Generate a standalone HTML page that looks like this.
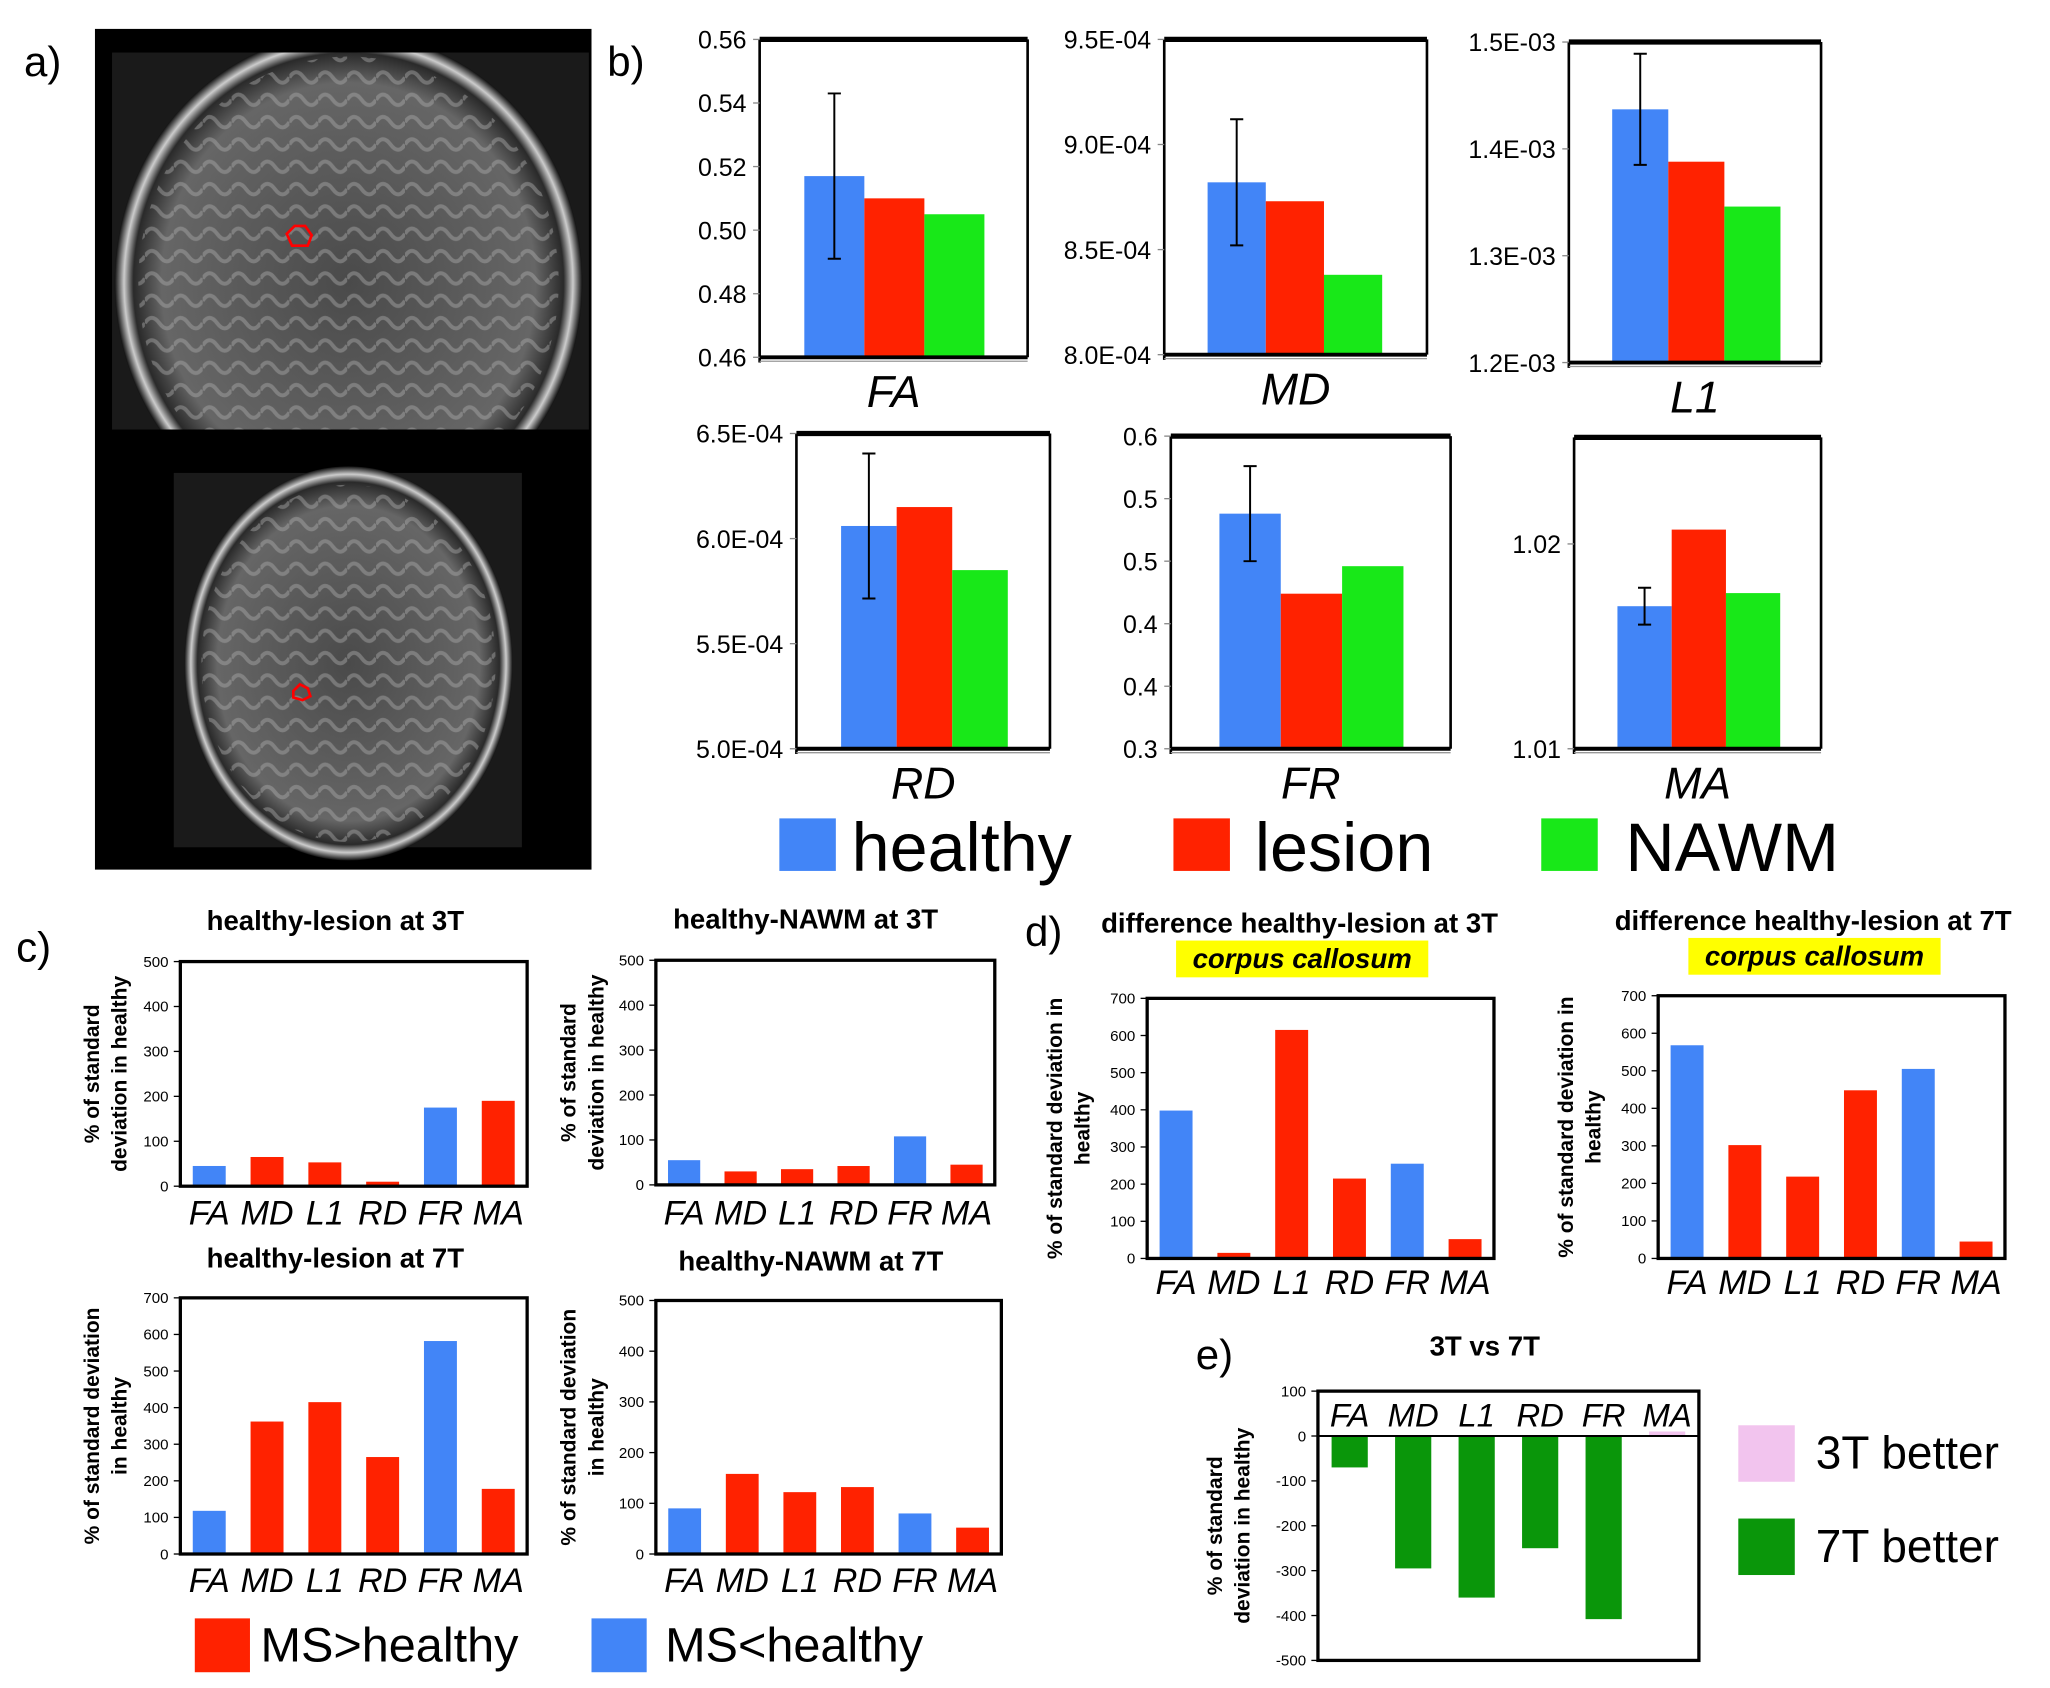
<!DOCTYPE html>
<html><head><meta charset="utf-8"><style>
html,body{margin:0;padding:0;background:#fff}
svg{display:block}
text{font-family:"Liberation Sans",Arial,sans-serif}
</style></head><body>
<svg id="fig" width="2050" height="1688" viewBox="0 0 1560 1285" xmlns="http://www.w3.org/2000/svg">
<defs>
<radialGradient id="br" cx="50%" cy="50%" r="50%"><stop offset="0" stop-color="#4a4a4a"/><stop offset="0.8" stop-color="#666"/><stop offset="0.92" stop-color="#2a2a2a"/><stop offset="0.96" stop-color="#ccc"/><stop offset="1" stop-color="#111"/></radialGradient>
<pattern id="gy" width="22" height="17" patternUnits="userSpaceOnUse"><path d="M0 8 Q5 0 11 8 T22 8" stroke="#aaa" stroke-width="3" fill="none"/></pattern>
<clipPath id="c1"><rect x="85" y="40" width="363" height="287"/></clipPath>
</defs>
<g>
<rect x="72" y="22" width="378" height="640" fill="#000"/>
<rect x="85" y="40" width="363" height="287" fill="#1a1a1a"/>
<g clip-path="url(#c1)">
<ellipse cx="265" cy="215" rx="178" ry="190" fill="url(#br)"/>
<ellipse cx="265" cy="215" rx="160" ry="172" fill="url(#gy)" opacity="0.45"/>
</g>
<rect x="132" y="360" width="265" height="285" fill="#1a1a1a"/>
<ellipse cx="265" cy="505" rx="125" ry="150" fill="url(#br)"/>
<ellipse cx="265" cy="505" rx="112" ry="136" fill="url(#gy)" opacity="0.45"/>
<path d="M218 178 l6 -6 h8 l5 7 -3 8 h-12 z" fill="none" stroke="#f00" stroke-width="2"/>
<path d="M223 526 l5 -5 6 3 2 6 -6 3 -7 -2 z" fill="none" stroke="#f00" stroke-width="2"/>
</g>
<text x="18" y="58" font-size="32">a)</text>
<text x="462" y="58" font-size="32">b)</text>
<text x="12" y="732" font-size="32">c)</text>
<text x="780" y="720" font-size="32">d)</text>
<text x="910" y="1042" font-size="32">e)</text>
</svg>
<script>
// Panel b data (healthy, lesion, NAWM)
const bGroups=["healthy","lesion","NAWM"];
const faVals=[0.517,0.510,0.505];const faErr=[0.026];
const mdVals=[8.82e-4,8.73e-4,8.38e-4];const mdErr=[0.30e-4];
const l1Vals=[1.437e-3,1.388e-3,1.346e-3];const l1Err=[0.052e-3];
const rdVals=[6.06e-4,6.15e-4,5.85e-4];const rdErr=[0.345e-4];
const frVals=[0.488,0.424,0.446];const frErr=[0.038];
const maVals=[1.01696,1.0207,1.0176];const maErr=[0.0009];
const faTicks=[0.46,0.48,0.50,0.52,0.54,0.56];const faLabels=["0.46","0.48","0.50","0.52","0.54","0.56"];
const mdTicks=[8.0e-4,8.5e-4,9.0e-4,9.5e-4];const mdLabels=["8.0E-04","8.5E-04","9.0E-04","9.5E-04"];
const l1Ticks=[1.2e-3,1.3e-3,1.4e-3,1.5e-3];const l1Labels=["1.2E-03","1.3E-03","1.4E-03","1.5E-03"];
const rdTicks=[5.0e-4,5.5e-4,6.0e-4,6.5e-4];const rdLabels=["5.0E-04","5.5E-04","6.0E-04","6.5E-04"];
const frTicks=[0.30,0.35,0.40,0.45,0.50,0.55];const frLabels=["0.3","0.4","0.4","0.5","0.5","0.6"];
const maTicks=[1.01,1.02];const maLabels=["1.01","1.02"];const maDomain=[1.01,1.0252];
// Panel c/d/e data
const cats=["FA","MD","L1","RD","FR","MA"];
const hl3Vals=[45,65,53,10,175,190];const hl3Sign=["b","r","r","r","b","r"];
const hn3Vals=[55,30,35,42,108,45];const hn3Sign=["b","r","r","r","b","r"];
const hl7Vals=[118,362,415,265,582,178];const hl7Sign=["b","r","r","r","b","r"];
const hn7Vals=[90,158,122,132,80,52];const hn7Sign=["b","r","r","r","b","r"];
const cc3Vals=[398,15,615,215,255,52];const cc3Sign=["b","r","r","r","b","r"];
const cc7Vals=[568,302,218,448,505,45];const cc7Sign=["b","r","r","r","b","r"];
const eVals=[-70,-295,-360,-250,-408,10];
const t500=[0,100,200,300,400,500];const t700=[0,100,200,300,400,500,600,700];
const tE=[-500,-400,-300,-200,-100,0,100];

const NS="http://www.w3.org/2000/svg";const svg=document.getElementById("fig");
const COL={healthy:"#4285f7",lesion:"#ff2200",NAWM:"#18e818",b:"#4285f7",r:"#ff2200",g:"#0a960a",p:"#f2c4ee"};
function mk(tag,attrs,parent){const e=document.createElementNS(NS,tag);for(const k in attrs)e.setAttribute(k,attrs[k]);(parent||svg).appendChild(e);return e;}
function txt(x,y,s,size,extra,parent){const t=mk("text",Object.assign({x:x,y:y,"font-size":size},extra||{}),parent);t.textContent=s;return t;}

function panelB(name,vals,err,ticks,labels,x0,x1,yTop,yBot,bx,bw,title,domain){
  const g=mk("g",{});
  
  
  const lo=domain?domain[0]:ticks[0],hi=domain?domain[1]:ticks[ticks.length-1];
  const ys=v=>yBot-(v-lo)/(hi-lo)*(yBot-yTop);
  vals.forEach((v,i)=>{const r=mk("rect",{x:bx+i*bw,y:ys(v),width:bw,height:yBot-ys(v),fill:COL[bGroups[i]]},g);
    
    });
  const cx=bx+bw/2,e1=ys(vals[0]-err[0]),e2=ys(vals[0]+err[0]);
  const eb=mk("path",{d:`M${cx} ${e1}V${e2}M${cx-5} ${e1}h10M${cx-5} ${e2}h10`,stroke:"#000","stroke-width":1.5,fill:"none"},g);
  
  
  mk("path",{d:`M${x0} ${yTop}H${x1}`,stroke:"#000","stroke-width":4},g);
  mk("path",{d:`M${x1} ${yTop}V${yBot}M${x0} ${yTop}V${yBot+4}`,stroke:"#000","stroke-width":2},g);
  mk("path",{d:`M${x0} ${yBot}H${x1}`,stroke:"#000","stroke-width":3},g);
  mk("path",{d:`M${x0} ${yBot+3}H${x1}`,stroke:"#999","stroke-width":1},g);
  ticks.forEach((t,i)=>{const y=ys(t);mk("path",{d:`M${x0-5} ${y}H${x0}`,stroke:"#888"},g);
    const l=txt(x0-10,y+7,labels[i],19,{"text-anchor":"end"},g);
    
    });
  const tt=txt((x0+x1)/2,yBot+38,title,34,{"text-anchor":"middle","font-style":"italic"},g);
  
  
}
panelB("fa",faVals,faErr,faTicks,faLabels,578,782,30,272,612,45.7,"FA");
panelB("md",mdVals,mdErr,mdTicks,mdLabels,886,1086,30,270,919,44.3,"MD");
panelB("l1",l1Vals,l1Err,l1Ticks,l1Labels,1194,1386,32,276,1227,42.7,"L1");
panelB("rd",rdVals,rdErr,rdTicks,rdLabels,606,799,330,570,640,42.3,"RD");
panelB("fr",frVals,frErr,frTicks,frLabels,891,1104,332,570,928,46.7,"FR");
panelB("ma",maVals,maErr,maTicks,maLabels,1198,1386,333,570,1231,41.3,"MA",maDomain);
// panel b legend
[["healthy",593,648],["lesion",893,955],["NAWM",1173,1237]].forEach(a=>{
  const r=mk("rect",{x:a[1],y:623,width:43,height:40,fill:COL[a[0]]});
  
  
  const t=txt(a[2],663,a[0],52);
  
  
});

function smallChart(name,vals,signs,ticks,x0,x1,yTop,yBot,title,tx,ty,yt1,yt2,ytx,catY,catSize){
  const g=mk("g",{});
  
  
  const lo=ticks[0],hi=ticks[ticks.length-1];
  const ys=v=>yBot-(v-lo)/(hi-lo)*(yBot-yTop);
  const step=(x1-x0)/vals.length,bw=step*0.57;
  const z=ys(Math.max(0,lo));
  vals.forEach((v,i)=>{const y=ys(v);const r=mk("rect",{x:x0+step*i+(step-bw)/2,y:Math.min(y,z),width:bw,height:Math.abs(z-y),fill:COL[signs[i]]},g);
    
    });
  mk("rect",{x:x0,y:yTop,width:x1-x0,height:yBot-yTop,fill:"none",stroke:"#000","stroke-width":2.5},g);
  if(lo<0)mk("path",{d:`M${x0} ${z}H${x1}`,stroke:"#000","stroke-width":1.5},g);
  ticks.forEach(t=>{const y=ys(t);mk("path",{d:`M${x0-5} ${y}H${x0}`,stroke:"#000"},g);
    const l=txt(x0-9,y+4,String(t),11.5,{"text-anchor":"end"},g);
    
    });
  cats.forEach((c,i)=>{const l=txt(x0+step*(i+0.5),catY,c,catSize,{"text-anchor":"middle","font-style":"italic"},g);
    
    });
  const t=txt(tx,ty,title,21,{"text-anchor":"middle","font-weight":"bold"},g);
  
  
  const cy=(yTop+yBot)/2;
  const a=txt(0,0,yt1,16,{"text-anchor":"middle","font-weight":"bold",transform:`translate(${ytx},${cy}) rotate(-90)`},g);
  
  
  const b=txt(0,0,yt2,16,{"text-anchor":"middle","font-weight":"bold",transform:`translate(${ytx+21},${cy}) rotate(-90)`},g);
  
  
}
smallChart("healthy-lesion-3t",hl3Vals,hl3Sign,t500,137,401,732,903,"healthy-lesion at 3T",255,708,"% of standard","deviation in healthy",75,932,26);
smallChart("healthy-nawm-3t",hn3Vals,hn3Sign,t500,499,757,731,902,"healthy-NAWM at 3T",613,707,"% of standard","deviation in healthy",438,932,26);
smallChart("healthy-lesion-7t",hl7Vals,hl7Sign,t700,137,401,988,1183,"healthy-lesion at 7T",255,965,"% of standard deviation","in healthy",75,1212,26);
smallChart("healthy-nawm-7t",hn7Vals,hn7Sign,t500,499,762,990,1183,"healthy-NAWM at 7T",617,967,"% of standard deviation","in healthy",438,1212,26);
smallChart("cc-3t",cc3Vals,cc3Sign,t700,873,1137,760,958,"difference healthy-lesion at 3T",989,710,"% of standard deviation in","healthy",808,985,26);
smallChart("cc-7t",cc7Vals,cc7Sign,t700,1262,1526,758,958,"difference healthy-lesion at 7T",1380,708,"% of standard deviation in","healthy",1197,985,26);
smallChart("3t-vs-7t",eVals,["g","g","g","g","g","p"],tE,1003,1293,1059,1264,"3T vs 7T",1130,1032,"% of standard","deviation in healthy",930,1086,25);
// yellow highlights
[[895,716,"cc3"],[1285,714,"cc7"]].forEach(a=>{
  const r=mk("rect",{x:a[0],y:a[1],width:192,height:28,fill:"#ffff00"});
  
  
  const t=txt(a[0]+96,a[1]+21,"corpus callosum",21,{"text-anchor":"middle","font-weight":"bold","font-style":"italic"});
  
  
});
// c legend
[["r",148,198,"MS>healthy"],["b",450,506,"MS<healthy"]].forEach(a=>{
  const r=mk("rect",{x:a[1],y:1232,width:42,height:41,fill:COL[a[0]]});
  
  
  const t=txt(a[2],1265,a[3],37);
  
  
});
// e legend
[["p",1085,1118,"3T better"],["g",1156,1189,"7T better"]].forEach(a=>{
  const r=mk("rect",{x:1323,y:a[1],width:43,height:43,fill:COL[a[0]]});
  
  
  const t=txt(1382,a[2],a[3],35);
  
  
});
</script>
</body></html>
